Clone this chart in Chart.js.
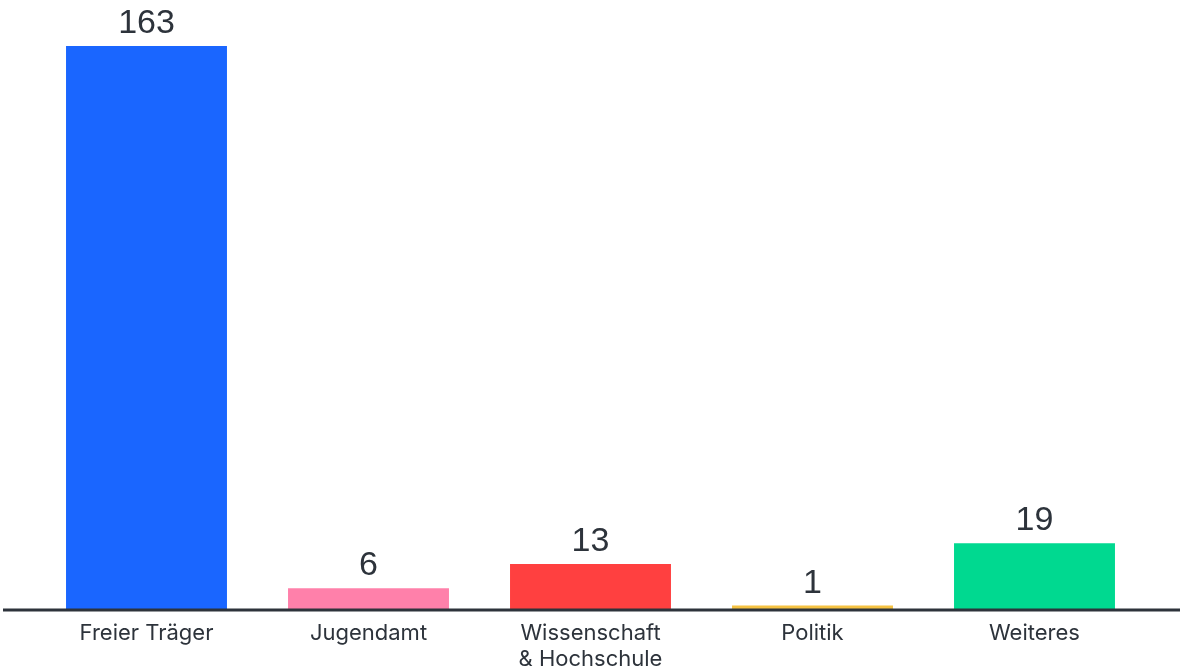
<!DOCTYPE html>
<html>
<head>
<meta charset="utf-8">
<script src="https://cdn.jsdelivr.net/npm/chart.js@4"></script>
<style>
  html, body { margin: 0; padding: 0; background: #fff; }
  #wrap { width: 1180px; height: 671px; }
</style>
</head>
<body>
<div id="wrap"><canvas id="bar-chart"></canvas></div>
<script>
var categories = ["Freier Träger", "Jugendamt", ["Wissenschaft", "& Hochschule"], "Politik", "Weiteres"];
var values = [163, 6, 13, 1, 19];
var barColors = ["#1a66ff", "#ff80aa", "#ff4040", "#f5c242", "#00d990"];

// value above each bar
var valueLabels = {
  id: 'valueLabels',
  afterDatasetsDraw: function(chart) {
    var ctx = chart.ctx;
    var meta = chart.getDatasetMeta(0);
    ctx.save();
    ctx.font = '34px "Liberation Sans", Arial, sans-serif';
    ctx.fillStyle = '#2d333b';
    ctx.textAlign = 'center';
    ctx.textBaseline = 'alphabetic';
    meta.data.forEach(function(bar, i) {
      ctx.fillText(values[i], bar.x, bar.y - 13);
    });
    ctx.restore();
  }
};

// base line across whole width
var baseLine = {
  id: 'baseLine',
  afterDatasetsDraw: function(chart) {
    var ctx = chart.ctx;
    var y = chart.scales.y.getPixelForValue(0) + 1;
    ctx.save();
    ctx.strokeStyle = '#2d333b';
    ctx.lineWidth = 3;
    ctx.beginPath();
    ctx.moveTo(3, y);
    ctx.lineTo(1180, y);
    ctx.stroke();
    ctx.restore();
  }
};

new Chart(document.getElementById("bar-chart"), {
  type: 'bar',
  data: {
    labels: categories,
    datasets: [
      {
        label: "Anzahl",
        backgroundColor: barColors,
        data: values,
        barPercentage: 0.725,
        categoryPercentage: 1
      }
    ]
  },
  options: {
    responsive: true,
    maintainAspectRatio: false,
    animation: false,
    layout: { padding: { left: 35.5, right: 34.5, top: 0, bottom: 0 } },
    plugins: {
      legend: { display: false },
      tooltip: { enabled: false }
    },
    scales: {
      x: {
        grid: { display: false },
        border: { display: false },
        ticks: {
          color: '#2d333b',
          padding: 4,
          maxRotation: 0,
          autoSkip: false,
          font: { family: 'Inter, "Noto Sans", sans-serif', size: 22, lineHeight: 1.15 }
        },
        afterFit: function(scale) { scale.height = 62; }
      },
      y: {
        display: false,
        min: 0,
        max: 176.3
      }
    }
  },
  plugins: [valueLabels, baseLine]
});
</script>
</body>
</html>
